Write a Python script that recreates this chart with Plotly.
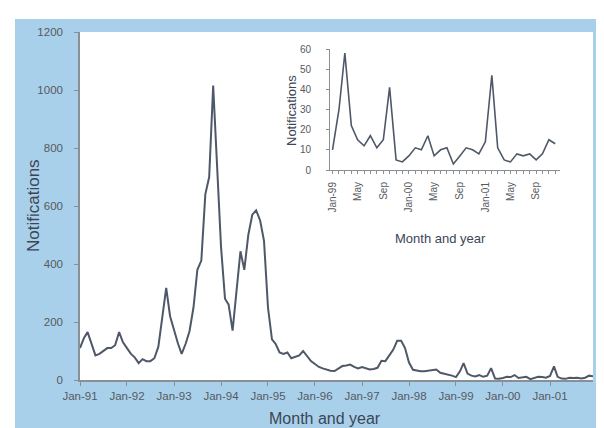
import pandas as pd
import plotly.graph_objects as go

# ---- data (monthly notifications, Jan-1991 .. Dec-2001) ----
vals_1991 = [110, 145, 165, 120, 85, 90, 100, 110, 110, 120, 165, 130]
vals_1992 = [110, 90, 78, 58, 72, 65, 65, 75, 115, 210, 318, 220]
vals_1993 = [170, 125, 90, 125, 168, 250, 380, 412, 640, 700, 1015, 750]
vals_1994 = [460, 280, 260, 170, 300, 444, 380, 500, 570, 585, 550, 480]
vals_1995 = [250, 140, 125, 95, 90, 95, 75, 80, 85, 100, 80, 65]
vals_1996 = [55, 45, 40, 36, 32, 31, 40, 48, 50, 53, 45, 40]
vals_1997 = [45, 40, 36, 38, 42, 66, 65, 85, 105, 135, 135, 110]
vals_1998 = [60, 35, 32, 30, 30, 32, 35, 36, 25, 22, 20, 15]
vals_1999 = [10, 30, 58, 22, 15, 12, 17, 11, 15, 41, 5, 4]
vals_2000 = [7, 11, 10, 17, 7, 10, 11, 3, 7, 11, 10, 8]
vals_2001 = [14, 47, 11, 5, 4, 8, 7, 8, 5, 8, 15, 13]

main_values = (vals_1991 + vals_1992 + vals_1993 + vals_1994 + vals_1995 + vals_1996
               + vals_1997 + vals_1998 + vals_1999 + vals_2000 + vals_2001)
months = list(pd.date_range("1991-01-01", periods=len(main_values), freq="MS"))

inset_values = vals_1999 + vals_2000 + vals_2001
inset_months = months[-len(inset_values):]

main_tick_dates = ["1991-01-01", "1992-01-01", "1993-01-01", "1994-01-01", "1995-01-01",
                   "1996-01-01", "1997-01-01", "1998-01-01", "1999-01-01", "2000-01-01",
                   "2001-01-01"]
main_tick_text = ["Jan-91", "Jan-92", "Jan-93", "Jan-94", "Jan-95", "Jan-96",
                  "Jan-97", "Jan-98", "Jan-99", "Jan-00", "Jan-01"]
main_y_ticks = [0, 200, 400, 600, 800, 1000, 1200]

inset_tick_dates = ["1999-01-01", "1999-05-01", "1999-09-01", "2000-01-01", "2000-05-01",
                    "2000-09-01", "2001-01-01", "2001-05-01", "2001-09-01"]
inset_tick_text = ["Jan-99", "May", "Sep", "Jan-00", "May", "Sep", "Jan-01", "May", "Sep"]
inset_y_ticks = [0, 10, 20, 30, 40, 50, 60]

# ---- figure ----
W, H = 604, 428
L, R, T, B = 72, 585, 24, 372
pw, ph = R - L, B - T

def px(x):
    return (x - L) / pw

def py(y):
    return (B - y) / ph

FONT = "Liberation Sans, Arial, sans-serif"
LINE = "#4f5868"
AXC = "#8a8f96"
TXT = "#555a60"
TITLE = "#3c4656"

fig = go.Figure()
fig.add_trace(go.Scatter(x=months, y=main_values, mode="lines",
                         line=dict(color=LINE, width=2), xaxis="x", yaxis="y",
                         showlegend=False, hoverinfo="skip"))
fig.add_trace(go.Scatter(x=inset_months, y=inset_values, mode="lines",
                         line=dict(color=LINE, width=1.6), xaxis="x2", yaxis="y2",
                         showlegend=False, hoverinfo="skip"))

fig.update_layout(
    width=W, height=H,
    margin=dict(l=L, r=W - R, t=T, b=H - B, pad=0),
    paper_bgcolor="white", plot_bgcolor="white",
    font=dict(family=FONT, color=TXT),
    xaxis=dict(type="date", range=["1991-01-01", "2001-12-01"], domain=[0, 1],
               tickvals=main_tick_dates, ticktext=main_tick_text,
               ticks="outside", ticklen=4, tickcolor=AXC, tickwidth=1,
               showline=True, linecolor=AXC, linewidth=1.5, showgrid=False,
               zeroline=False, tickfont=dict(size=11.5, color=TXT), tickangle=0),
    yaxis=dict(range=[0, 1200], tickvals=main_y_ticks, domain=[0, 1],
               ticks="outside", ticklen=4, tickcolor=AXC, tickwidth=1,
               showline=True, linecolor=AXC, linewidth=1.5, showgrid=False,
               zeroline=False, tickfont=dict(size=11.5, color=TXT),
               ticklabelstandoff=9),
    xaxis2=dict(type="date", range=["1998-12-20", "2001-12-24"],
                domain=[px(322), px(552)], anchor="y2",
                tickvals=inset_tick_dates, ticktext=inset_tick_text, tickangle=-90,
                ticks="outside", ticklen=3, tickcolor=AXC,
                minor=dict(dtick="M1", ticks="outside", ticklen=3, tickcolor=AXC,
                           showgrid=False),
                showline=True, linecolor=AXC, linewidth=1, showgrid=False,
                zeroline=False, tickfont=dict(size=10, color=TXT),
                ticklabelstandoff=4),
    yaxis2=dict(range=[0, 60], tickvals=inset_y_ticks,
                domain=[py(162), py(41)], anchor="x2",
                ticks="outside", ticklen=3, tickcolor=AXC,
                showline=True, linecolor=AXC, linewidth=1, showgrid=False,
                zeroline=False, tickfont=dict(size=10, color=TXT),
                ticklabelstandoff=13),
    shapes=[
        dict(type="rect", xref="paper", yref="paper", layer="below",
             x0=px(7), x1=px(604), y0=py(428), y1=py(11),
             fillcolor="#a9d0ea", line=dict(width=0)),
        dict(type="rect", xref="paper", yref="paper", layer="below",
             x0=0, x1=1, y0=0, y1=1, fillcolor="white", line=dict(width=0)),
    ],
    annotations=[
        dict(text="Notifications", xref="paper", yref="paper", x=px(25), y=py(198),
             textangle=-90, showarrow=False, xanchor="center", yanchor="middle",
             font=dict(size=17, color=TITLE)),
        dict(text="Month and year", xref="paper", yref="paper", x=px(317), y=py(410),
             showarrow=False, xanchor="center", yanchor="middle",
             font=dict(size=16, color=TITLE)),
        dict(text="Notifications", xref="paper", yref="paper", x=px(283), y=py(103),
             textangle=-90, showarrow=False, xanchor="center", yanchor="middle",
             font=dict(size=13, color=TITLE)),
        dict(text="Month and year", xref="paper", yref="paper", x=px(432), y=py(230),
             showarrow=False, xanchor="center", yanchor="middle",
             font=dict(size=13, color=TITLE)),
    ],
)

fig.write_html("out.html", config={"displayModeBar": False})
